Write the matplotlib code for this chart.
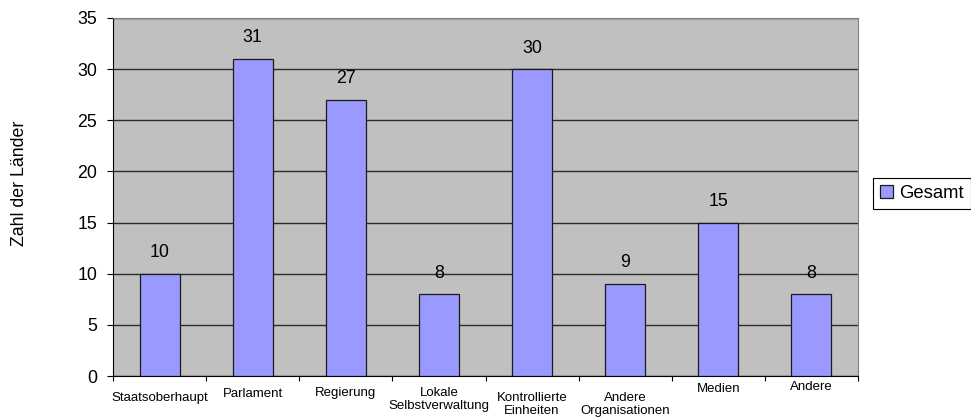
import matplotlib.pyplot as plt
import numpy as np

plt.rcParams['font.family'] = ['Liberation Sans', 'DejaVu Sans']

# categories and values
categories = ["Staatsoberhaupt", "Parlament", "Regierung", "Lokale\nSelbstverwaltung",
              "Kontrollierte\nEinheiten", "Andere\nOrganisationen", "Medien", "Andere"]
values = [10, 31, 27, 8, 30, 9, 15, 8]
series_name = "Gesamt"
y_ticks = [0, 5, 10, 15, 20, 25, 30, 35]

# Excel placed the category labels at slightly different heights
label_pads = [11.5, 8.7, 8, 8, 11.5, 11.5, 5.1, 3.7]

W, H = 971, 419
fig = plt.figure(figsize=(W / 100, H / 100), dpi=100)
ax = fig.add_axes([113 / W, (H - 376) / H, 745 / W, 358 / H])
ax.set_facecolor("#C0C0C0")

x = np.arange(len(categories))
bars = ax.bar(x, values, width=0.43, color="#9999FF", edgecolor="#1a1a1a",
              linewidth=0.9, zorder=3, label=series_name)

for xi, v in zip(x, values):
    ax.annotate(str(v), (xi, v), xytext=(0, 9), textcoords="offset points",
                ha="center", va="bottom", fontsize=12.8, zorder=4)

ax.set_xlim(-0.5, len(categories) - 0.5)
ax.set_ylim(0, 35)
ax.set_yticks(y_ticks)
ax.tick_params(axis="y", direction="out", length=4.3, width=0.8, pad=7, labelsize=12.8)
ax.yaxis.grid(True, color="#2a2a2a", linewidth=1.0, zorder=1)
ax.set_axisbelow(True)

# labels at the centres, tick marks between categories
ax.set_xticks(x)
ax.set_xticklabels(categories, fontsize=9.5, linespacing=1.15)
ax.set_xticks(np.arange(len(categories) + 1) - 0.5, minor=True)
ax.tick_params(axis="x", which="major", length=0)
ax.tick_params(axis="x", which="minor", direction="out", length=3.6, width=0.8)
for tick, p in zip(ax.xaxis.get_major_ticks(), label_pads):
    tick.set_pad(p)

ax.spines["left"].set_color("black")
ax.spines["bottom"].set_color("black")
ax.spines["top"].set_color("#808080")
ax.spines["right"].set_color("#808080")

fig.text(20 / W, 1 - 183 / H, "Zahl der Länder", rotation=90, ha="center",
         va="center", fontsize=12.8)

leg = fig.legend(handles=[bars], labels=[series_name], loc="center left",
                 bbox_to_anchor=(873 / W, 1 - 193.5 / H), fontsize=13.3,
                 fancybox=False, framealpha=1, edgecolor="black",
                 handlelength=0.7, handleheight=0.7, handletextpad=0.3,
                 borderpad=0.4, borderaxespad=0)
leg.get_frame().set_linewidth(0.8)

fig.savefig("out.png", dpi=100)
